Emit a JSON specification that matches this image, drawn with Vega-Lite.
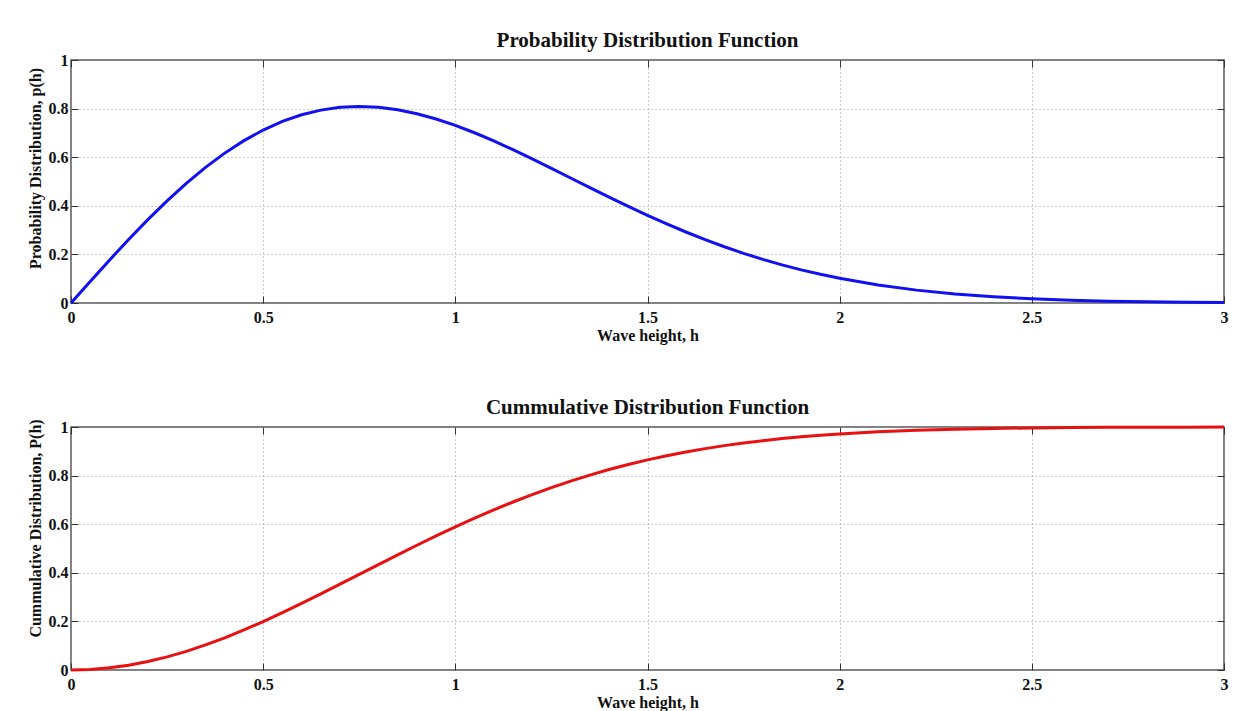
{
  "$schema": "https://vega.github.io/schema/vega-lite/v6.json",
  "background": "white",
  "padding": {"top": 29, "left": 26, "right": 0, "bottom": 0},
  "spacing": 52,
  "datasets": {
    "rayleigh": [
      {"h": 0.0, "p": 0.0, "P": 0.0},
      {"h": 0.05, "p": 0.08869, "P": 0.00222},
      {"h": 0.1, "p": 0.17621, "P": 0.00885},
      {"h": 0.15, "p": 0.26139, "P": 0.0198},
      {"h": 0.2, "p": 0.34314, "P": 0.03493},
      {"h": 0.25, "p": 0.42043, "P": 0.05404},
      {"h": 0.3, "p": 0.49233, "P": 0.07688},
      {"h": 0.35, "p": 0.55803, "P": 0.10317},
      {"h": 0.4, "p": 0.61684, "P": 0.13257},
      {"h": 0.45, "p": 0.66822, "P": 0.16473},
      {"h": 0.5, "p": 0.71177, "P": 0.19926},
      {"h": 0.55, "p": 0.74725, "P": 0.23577},
      {"h": 0.6, "p": 0.77456, "P": 0.27385},
      {"h": 0.65, "p": 0.79378, "P": 0.31308},
      {"h": 0.7, "p": 0.80506, "P": 0.35308},
      {"h": 0.75, "p": 0.80871, "P": 0.39347},
      {"h": 0.8, "p": 0.80521, "P": 0.43384},
      {"h": 0.85, "p": 0.79506, "P": 0.47386},
      {"h": 0.9, "p": 0.7788, "P": 0.51325},
      {"h": 0.95, "p": 0.75716, "P": 0.55168},
      {"h": 1.0, "p": 0.73086, "P": 0.58889},
      {"h": 1.05, "p": 0.70058, "P": 0.62469},
      {"h": 1.1, "p": 0.66704, "P": 0.6589},
      {"h": 1.15, "p": 0.6310, "P": 0.69136},
      {"h": 1.2, "p": 0.59315, "P": 0.72196},
      {"h": 1.25, "p": 0.55411, "P": 0.75065},
      {"h": 1.3, "p": 0.5145, "P": 0.77738},
      {"h": 1.35, "p": 0.47496, "P": 0.8021},
      {"h": 1.4, "p": 0.43588, "P": 0.82487},
      {"h": 1.45, "p": 0.39773, "P": 0.84571},
      {"h": 1.5, "p": 0.36089, "P": 0.86466},
      {"h": 1.55, "p": 0.32565, "P": 0.88182},
      {"h": 1.6, "p": 0.29222, "P": 0.89727},
      {"h": 1.65, "p": 0.26083, "P": 0.91108},
      {"h": 1.7, "p": 0.2315, "P": 0.9234},
      {"h": 1.75, "p": 0.20449, "P": 0.93427},
      {"h": 1.8, "p": 0.17962, "P": 0.94387},
      {"h": 1.85, "p": 0.15698, "P": 0.95227},
      {"h": 1.9, "p": 0.13646, "P": 0.9596},
      {"h": 1.95, "p": 0.11804, "P": 0.96595},
      {"h": 2.0, "p": 0.10158, "P": 0.97143},
      {"h": 2.1, "p": 0.07407, "P": 0.98016},
      {"h": 2.2, "p": 0.05296, "P": 0.98646},
      {"h": 2.3, "p": 0.03711, "P": 0.99092},
      {"h": 2.4, "p": 0.0255, "P": 0.99402},
      {"h": 2.5, "p": 0.01718, "P": 0.99613},
      {"h": 2.6, "p": 0.01135, "P": 0.99754},
      {"h": 2.7, "p": 0.00736, "P": 0.99847},
      {"h": 2.8, "p": 0.00468, "P": 0.99906},
      {"h": 2.9, "p": 0.00292, "P": 0.99943},
      {"h": 3.0, "p": 0.00179, "P": 0.99966}
    ]
  },
  "config": {
    "font": "Liberation Serif",
    "view": {"stroke": "#555555", "strokeWidth": 1.5},
    "axis": {
      "domain": false,
      "labelFont": "Liberation Serif",
      "labelFontWeight": "bold",
      "labelFontSize": 16,
      "labelColor": "#111111",
      "titleFont": "Liberation Serif",
      "titleFontWeight": "bold",
      "titleFontSize": 16,
      "titleColor": "#111111",
      "tickColor": "#333333",
      "tickSize": -7,
      "tickWidth": 1,
      "grid": true,
      "gridColor": "#999999",
      "gridDash": [1, 3],
      "gridWidth": 1,
      "format": "~g"
    },
    "title": {
      "font": "Liberation Serif",
      "fontWeight": "bold",
      "fontSize": 21,
      "color": "#111111",
      "offset": 1
    }
  },
  "vconcat": [
    {
      "width": 1153,
      "height": 243,
      "title": "Probability Distribution Function",
      "data": {"name": "rayleigh"},
      "layer": [
        {
          "mark": {"type": "line", "color": "#1010f0", "strokeWidth": 3},
          "encoding": {
            "x": {"field": "h", "type": "quantitative", "scale": {"domain": [0, 3], "nice": false},
              "axis": {"values": [0, 0.5, 1, 1.5, 2, 2.5, 3], "title": "Wave height, h", "labelPadding": 13, "titlePadding": 2, "labelFlush": false}},
            "y": {"field": "p", "type": "quantitative", "scale": {"domain": [0, 1], "nice": false},
              "axis": {"values": [0, 0.2, 0.4, 0.6, 0.8, 1], "title": "Probability Distribution, p(h)", "labelPadding": 10, "titlePadding": 5, "titleY": 108, "labelFlush": false}}
          }
        },
        {
          "mark": {"type": "line", "opacity": 0},
          "encoding": {
            "x": {"field": "h", "type": "quantitative", "axis": {"orient": "top", "values": [0, 0.5, 1, 1.5, 2, 2.5, 3], "labels": false, "grid": false, "title": null}},
            "y": {"field": "p", "type": "quantitative", "axis": {"orient": "right", "values": [0, 0.2, 0.4, 0.6, 0.8, 1], "labels": false, "grid": false, "title": null}}
          }
        }
      ],
      "resolve": {"axis": {"x": "independent", "y": "independent"}}
    },
    {
      "width": 1153,
      "height": 243,
      "title": "Cummulative Distribution Function",
      "data": {"name": "rayleigh"},
      "layer": [
        {
          "mark": {"type": "line", "color": "#e81010", "strokeWidth": 3},
          "encoding": {
            "x": {"field": "h", "type": "quantitative", "scale": {"domain": [0, 3], "nice": false},
              "axis": {"values": [0, 0.5, 1, 1.5, 2, 2.5, 3], "title": "Wave height, h", "labelPadding": 13, "titlePadding": 2, "labelFlush": false}},
            "y": {"field": "P", "type": "quantitative", "scale": {"domain": [0, 1], "nice": false},
              "axis": {"values": [0, 0.2, 0.4, 0.6, 0.8, 1], "title": "Cummulative Distribution, P(h)", "labelPadding": 10, "titlePadding": 5, "titleY": 101, "labelFlush": false}}
          }
        },
        {
          "mark": {"type": "line", "opacity": 0},
          "encoding": {
            "x": {"field": "h", "type": "quantitative", "axis": {"orient": "top", "values": [0, 0.5, 1, 1.5, 2, 2.5, 3], "labels": false, "grid": false, "title": null}},
            "y": {"field": "P", "type": "quantitative", "axis": {"orient": "right", "values": [0, 0.2, 0.4, 0.6, 0.8, 1], "labels": false, "grid": false, "title": null}}
          }
        }
      ],
      "resolve": {"axis": {"x": "independent", "y": "independent"}}
    }
  ]
}
